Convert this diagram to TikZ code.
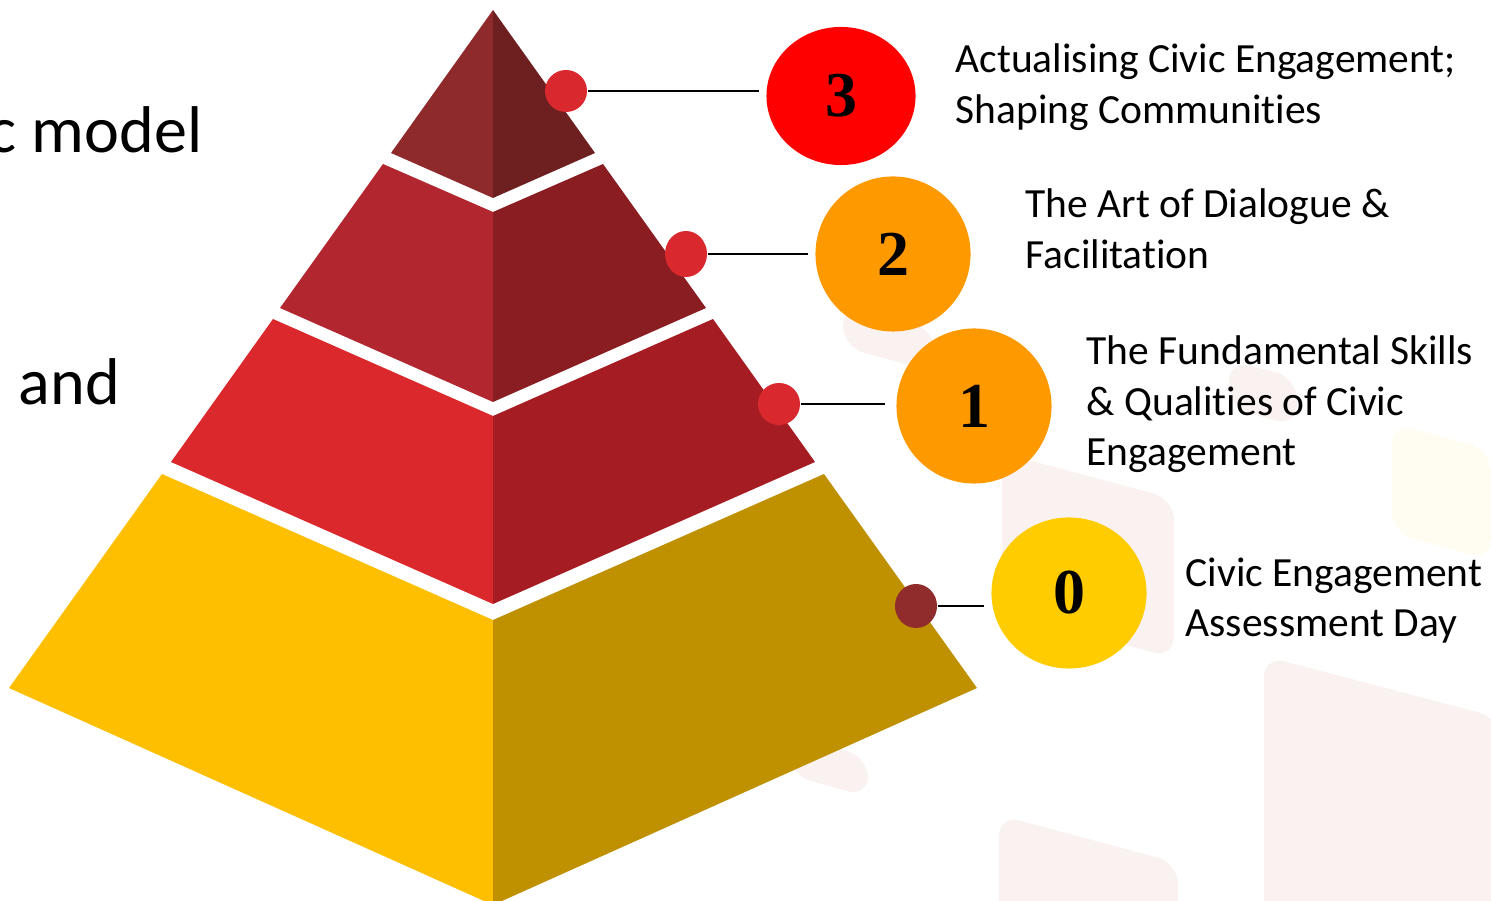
\documentclass[tikz,border=0pt]{standalone}
\usepackage{fontspec}
\setmainfont{Carlito}[Ligatures=NoCommon]
\newfontfamily\numfont{Liberation Serif}
\usetikzlibrary{shapes.geometric}

% tier faces, light side / dark side
\definecolor{peakL}{HTML}{8F2A2C}
\definecolor{peakR}{HTML}{6E1F20}
\definecolor{upperL}{HTML}{B2272F}
\definecolor{upperR}{HTML}{891D22}
\definecolor{midL}{HTML}{DA282D}
\definecolor{midR}{HTML}{A51D23}
\definecolor{baseL}{HTML}{FDBF00}
\definecolor{baseR}{HTML}{BF9000}
% badges and pins
\definecolor{pinred}{HTML}{D9282E}
\definecolor{pindark}{HTML}{912C2C}
\definecolor{badgered}{HTML}{FF0000}
\definecolor{badgeorange}{HTML}{FF9900}
\definecolor{badgeyellow}{HTML}{FFCC00}
% faint tiles behind
\definecolor{tilepink}{HTML}{FAF1F1}
\definecolor{tileyellow}{HTML}{FFFDF1}

\begin{document}
\begin{tikzpicture}[x=0.01cm, y=-0.01cm,
	pin/.style={shape=ellipse, inner sep=0pt, minimum width=0.42cm, minimum height=0.42cm},
	badge/.style={shape=ellipse, inner sep=0pt, minimum width=1.55cm, minimum height=1.55cm,
		font=\numfont\fontsize{18.2}{20}\selectfont\bfseries},
	link/.style={-, line width=0.8pt, black},
	tiertext/.style={anchor=base west, align=left, inner sep=0pt,
		font=\fontsize{11.8}{14.5}\selectfont},
	bigtext/.style={inner sep=0pt, font=\fontsize{18.8}{22}\selectfont},
	backtile/.style={rounded corners=6pt}]

	\path[use as bounding box, clip] (0,0) rectangle (1491,901);

	% faint tiles
	\fill[backtile, tilepink]   (843,305) -- (935,330) -- (935,372) -- (843,347) -- cycle;
	\fill[backtile, tilepink]   (1229,360) -- (1297,378) -- (1297,426) -- (1229,408) -- cycle;
	\fill[backtile, tilepink]   (1002,453) -- (1174,499) -- (1174,658) -- (1002,612) -- cycle;
	\fill[backtile, tileyellow] (1392,423) -- (1491,450) -- (1491,560) -- (1392,533) -- cycle;
	\fill[backtile, tilepink]   (790,735) -- (868,757) -- (868,797) -- (790,775) -- cycle;
	\fill[backtile, tilepink]   (999,815) -- (1178,863) -- (1178,920) -- (999,920) -- cycle;
	\fill[backtile, tilepink]   (1264,656) -- (1500,718) -- (1500,920) -- (1264,920) -- cycle;

	% side text
	\node[bigtext, anchor=base east] (model) at (203,153) {c model};
	\node[bigtext, anchor=base west] (and) at (18,405) {and};

	% pyramid
	\fill[peakL]  (493,10) -- (391,153) -- (493,198) -- cycle;
	\fill[peakR]  (493,10) -- (595,153) -- (493,198) -- cycle;
	\fill[upperL] (383,164) -- (493,212) -- (493,402) -- (280,308) -- cycle;
	\fill[upperR] (603,164) -- (493,212) -- (493,402) -- (706,308) -- cycle;
	\fill[midL]   (273,319) -- (493,416) -- (493,604) -- (171,462) -- cycle;
	\fill[midR]   (713,319) -- (493,416) -- (493,604) -- (815,462) -- cycle;
	\fill[baseL]  (162,474) -- (493,620) -- (493,905) -- (9,688) -- cycle;
	\fill[baseR]  (824,474) -- (493,620) -- (493,905) -- (977,688) -- cycle;

	% pins on the right face
	\node[pin, fill=pinred] (p3) at (566,91) {};
	\node[pin, fill=pinred, minimum height=0.46cm] (p2) at (686,254) {};
	\node[pin, fill=pinred] (p1) at (779,404) {};
	\node[pin, fill=pindark, minimum height=0.44cm] (p0) at (916,606) {};

	% numbered badges
	\node[badge, fill=badgered, minimum width=1.49cm, minimum height=1.38cm] (b3) at (841,96) {3};
	\node[badge, fill=badgeorange] (b2) at (893,254) {2};
	\node[badge, fill=badgeorange] (b1) at (974,406) {1};
	\node[badge, fill=badgeyellow, minimum height=1.51cm] (b0) at (1069,593) {0};

	\draw[link, shorten >=2pt] (p3) -- (p3 -| b3.west);
	\draw[link, shorten >=2pt] (p2) -- (p2 -| b2.west);
	\draw[link, shorten >=3pt] (p1) -- (p1 -| b1.west);
	\draw[link, shorten >=2pt] (p0) -- (p0 -| b0.west);

	% tier descriptions (anchored on the last line)
	\node[tiertext] (t3) at (955,124) {Actualising Civic Engagement;\\Shaping Communities};
	\node[tiertext] (t2) at (1025,269) {The Art of Dialogue \&\\Facilitation};
	\node[tiertext] (t1) at (1086,466) {The Fundamental Skills\\\& Qualities of Civic\\Engagement};
	\node[tiertext] (t0) at (1185,637) {Civic Engagement\\Assessment Day};

\end{tikzpicture}
\end{document}
